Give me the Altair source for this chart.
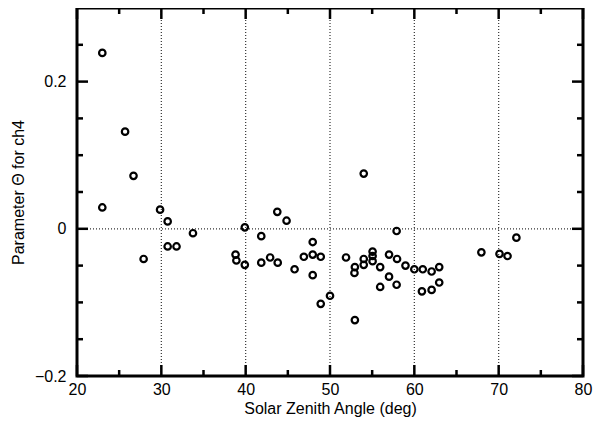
import altair as alt
import pandas as pd

# Data
sza = [23.0, 25.7, 26.7, 23.0, 27.9, 29.85, 30.75, 30.75, 31.8, 33.75,
       38.8, 38.9, 39.9, 39.9, 41.85, 41.85, 42.9, 43.75, 43.8, 44.85,
       45.8, 46.9, 47.95, 47.95, 47.95, 48.9, 48.9, 50.0, 51.9, 52.95,
       52.9, 52.95, 54.0, 54.0, 54.0, 55.05, 55.05, 55.05, 55.95, 55.95,
       57.0, 57.0, 57.9, 57.95, 57.9, 58.95, 60.0, 61.0, 60.9, 62.05,
       62.05, 62.95, 62.95, 67.95, 70.1, 71.05, 72.1]
theta = [0.239, 0.132, 0.072, 0.029, -0.041, 0.026, 0.010, -0.024, -0.024, -0.006,
         -0.035, -0.043, 0.002, -0.049, -0.010, -0.046, -0.039, 0.023, -0.046, 0.011,
         -0.055, -0.038, -0.018, -0.035, -0.063, -0.038, -0.102, -0.091, -0.039, -0.052,
         -0.060, -0.124, 0.075, -0.041, -0.049, -0.031, -0.037, -0.044, -0.052, -0.079,
         -0.035, -0.065, -0.003, -0.041, -0.076, -0.050, -0.055, -0.055, -0.085, -0.058,
         -0.083, -0.052, -0.073, -0.032, -0.034, -0.037, -0.012]

x_major = [20, 30, 40, 50, 60, 70, 80]
x_minor = [25, 35, 45, 55, 65, 75]
x_grid = [30, 40, 50, 60, 70]
y_major = [-0.2, 0.0, 0.2]
y_minor = [-0.15, -0.1, -0.05, 0.05, 0.1, 0.15, 0.25]
y_grid = [0.0]

X0, X1 = 20, 80
Y0, Y1 = -0.2, 0.3
W, H = 506, 368
FONT = "Liberation Sans"
MAJ, MIN = 11, 6  # tick lengths in pixels

xs = alt.Scale(domain=[X0, X1], nice=False, zero=False)
ys = alt.Scale(domain=[Y0, Y1], nice=False, zero=False)

xaxis = alt.Axis(values=x_major, title="Solar Zenith Angle (deg)", grid=False,
                 ticks=False, domain=False, labelFontSize=16, titleFontSize=16,
                 labelPadding=5, titlePadding=3, labelFont=FONT, titleFont=FONT,
                 labelFlush=False, labelOverlap=False,
                 titleFontWeight="normal", labelColor="black", titleColor="black")
yaxis = alt.Axis(values=y_major, title="Parameter Θ for ch4", grid=False,
                 ticks=False, domain=False, labelFontSize=16, titleFontSize=16,
                 labelPadding=11, titlePadding=8, labelFont=FONT, titleFont=FONT,
                 labelFlush=False, labelOverlap=False,
                 titleFontWeight="normal", labelColor="black", titleColor="black",
                 labelExpr="datum.value == 0 ? '0' : format(datum.value, '.1f')")


def X(f):
    return alt.X(f, type="quantitative", scale=xs, axis=xaxis)


def Y(f):
    return alt.Y(f, type="quantitative", scale=ys, axis=yaxis)


# inward tick segments, lengths converted from pixels to data units
dy = (Y1 - Y0) / H
dx = (X1 - X0) / W
rows = []
for vals, L in ((x_major, MAJ), (x_minor, MIN)):
    for v in vals:
        rows.append({"sza": v, "sza2": v, "theta": Y0, "theta2": Y0 + L * dy})
        rows.append({"sza": v, "sza2": v, "theta": Y1, "theta2": Y1 - L * dy})
for vals, L in ((y_major, MAJ), (y_minor, MIN)):
    for v in vals:
        rows.append({"sza": X0, "sza2": X0 + L * dx, "theta": v, "theta2": v})
        rows.append({"sza": X1, "sza2": X1 - L * dx, "theta": v, "theta2": v})
ticks = pd.DataFrame(rows)

pts = pd.DataFrame({"sza": sza, "theta": theta})

grid_v = alt.Chart(pd.DataFrame({"sza": x_grid})).mark_rule(
    color="#333333", strokeDash=[1, 2], strokeWidth=1.2).encode(x=X("sza"))
grid_h = alt.Chart(pd.DataFrame({"theta": y_grid})).mark_rule(
    color="#333333", strokeDash=[1, 2], strokeWidth=1.2).encode(y=Y("theta"))

tick_layer = alt.Chart(ticks).mark_rule(color="#000000", strokeWidth=2.5).encode(
    x=X("sza"), x2="sza2", y=Y("theta"), y2="theta2")

points = alt.Chart(pts).mark_point(
    shape="circle", filled=False, color="black", size=42, strokeWidth=2.2, opacity=1
).encode(x=X("sza"), y=Y("theta"))

chart = alt.layer(grid_v, grid_h, points, tick_layer).properties(
    width=W, height=H, autosize="none",
    padding={"left": 69, "top": 0, "right": 10, "bottom": 52},
    background="white"
).configure_view(stroke="#000000", strokeWidth=3)

chart.save("out.html", embed_options={"renderer": "svg", "actions": False})
